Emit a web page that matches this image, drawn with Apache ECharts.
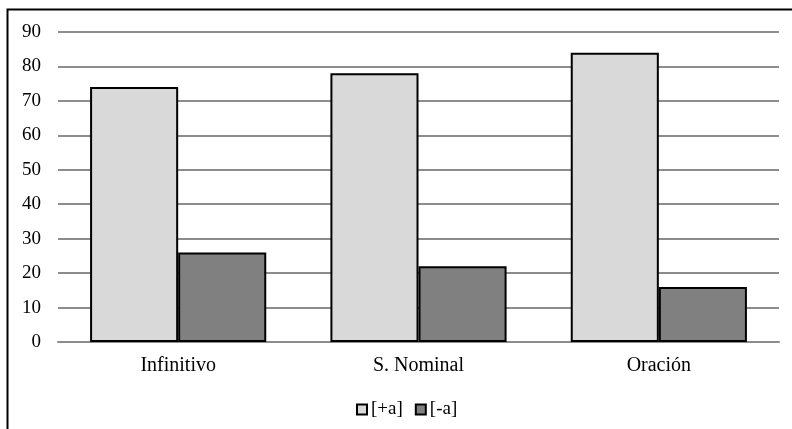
<!DOCTYPE html>
<html><head><meta charset="utf-8">
<script src="https://cdn.jsdelivr.net/npm/echarts@6/dist/echarts.min.js"></script>
<style>html,body{margin:0;padding:0;background:#fff}#c{width:792px;height:429px}</style>
</head><body><div id="c"></div>
<script>
const categories = ["Infinitivo", "S. Nominal", "Oración"];
const seriesNames = ["[+a]", "[-a]"];
const plusA = [74, 78, 84];
const minusA = [26, 22, 16];
const chart = echarts.init(document.getElementById('c'), null, {renderer: 'canvas'});
const font = 'Liberation Serif';
chart.setOption({
  animation: false,
  backgroundColor: '#fff',
  graphic: [{type: 'rect', shape: {x: 7.5, y: 9.5, width: 820, height: 440}, style: {fill: 'none', stroke: '#000', lineWidth: 2}, z: 100}],
  grid: {left: 58, right: 13, top: 32, bottom: 87},
  legend: {
    data: seriesNames, top: 395, left: 351, itemWidth: 10, itemHeight: 10, itemGap: 12,
    icon: 'rect',
    textStyle: {fontFamily: font, fontSize: 19, color: '#000', padding: [0, 0, 0, -1]},
    itemStyle: {borderColor: '#000', borderWidth: 2}
  },
  xAxis: {
    type: 'category', data: categories,
    axisLine: {lineStyle: {color: '#8c8c8c', width: 2}},
    axisTick: {show: false},
    axisLabel: {fontFamily: font, fontSize: 20, color: '#000', margin: 14}
  },
  yAxis: {
    type: 'value', min: 0, max: 90, interval: 10,
    axisLine: {show: false}, axisTick: {show: false},
    axisLabel: {fontFamily: font, fontSize: 19, color: '#000', margin: 17},
    splitLine: {lineStyle: {color: '#8c8c8c', width: 2}}
  },
  series: [
    {name: seriesNames[0], type: 'bar', data: plusA, barGap: '0%', barCategoryGap: '26.7%',
     itemStyle: {color: '#d9d9d9', borderColor: '#000', borderWidth: 2}},
    {name: seriesNames[1], type: 'bar', data: minusA, barGap: '0%', barCategoryGap: '26.7%',
     itemStyle: {color: '#808080', borderColor: '#000', borderWidth: 2}}
  ]
});
</script></body></html>
